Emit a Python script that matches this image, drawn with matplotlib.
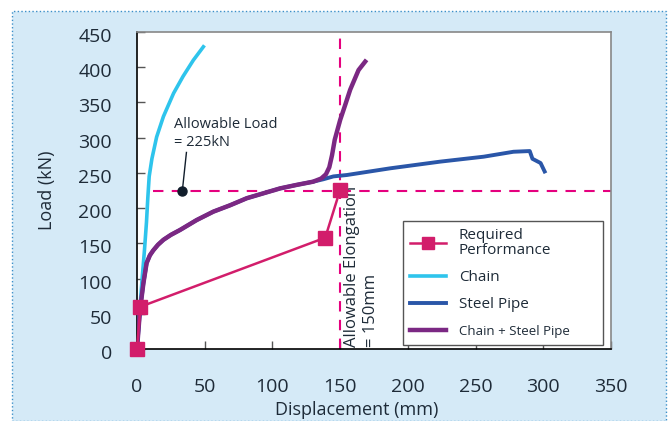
import matplotlib
matplotlib.use('Agg')
import matplotlib.pyplot as plt
from matplotlib.patches import Rectangle
from matplotlib.transforms import ScaledTranslation

plt.rcParams['font.family'] = ['Open Sans', 'DejaVu Sans']

# displacement (mm) / load (kN)
chain_x = [0, 1.5, 3, 4, 5.5, 7, 8, 9, 11, 14.5, 19.5, 27, 34, 41.6, 49]
chain_y = [0, 40, 80, 105, 140, 180, 215, 245, 270, 301, 330, 363, 387, 410, 429]

pipe_x = [0, 2.2, 4.7, 7.1, 9.5, 12, 15.5, 19.5, 25, 31.8, 44, 56.4, 68.7, 81, 93.3, 105.7, 118,
          130, 137.7, 145, 155, 187, 224, 256, 278, 290, 292, 295, 298, 301]
pipe_y = [0, 55, 93, 122, 133, 140, 148, 155, 162, 169, 183, 195, 204, 214, 221, 228, 233,
          237.5, 241, 245, 247, 256.5, 266, 273, 280, 281, 270, 267, 264, 252]

combo_x = [0, 2.2, 4.7, 7.1, 9.5, 12, 15.5, 19.5, 25, 31.8, 44, 56.4, 68.7, 81, 93.3, 105.7,
           118, 130, 136, 139.5, 142, 144, 146, 150, 154, 157.4, 163.6, 168.5]
combo_y = [0, 55, 93, 122, 133, 140, 148, 155, 162, 169, 183, 195, 204, 214, 221, 228,
           233, 237.5, 242, 248, 258, 275, 297, 325, 348, 368, 396, 408]

req_x = [0, 2.5, 139, 150]
req_y = [0, 60, 158, 226]

allow_load = 225
allow_elong = 150

fig = plt.figure(figsize=(6.68, 4.21), dpi=100, facecolor='white')
# light blue panel with dotted border
fig.patches.append(Rectangle((12/668, 0), (666-12)/668, (421-11)/421, transform=fig.transFigure,
                             facecolor='#d5eaf7', edgecolor='#3b8fc9', linestyle=':', linewidth=1.0,
                             zorder=-10))

ax = fig.add_axes([137/668, (421-349)/421, 474/668, 317/421])
ax.set_facecolor('white')

pink = '#d21d6b'
dash = '#e5007e'
txt = '#1e2b38'

ax.plot(chain_x, chain_y, color='#2ec4ec', lw=2.6, zorder=3, label='Chain')
ax.plot(pipe_x, pipe_y, color='#2a56a8', lw=2.8, zorder=4, label='Steel Pipe')
ax.plot(combo_x, combo_y, color='#7b2883', lw=3.2, zorder=5, label='Chain + Steel Pipe')
ax.plot(req_x, req_y, color=pink, lw=1.8, marker='s', markersize=10, zorder=6, clip_on=False,
        label='Required\nPerformance')

ax.plot([12, 350], [allow_load, allow_load], color=dash, lw=1.5, dashes=(5, 4), zorder=2)
ax.axvline(allow_elong, color=dash, lw=1.5, dashes=(5, 4), zorder=2)

ax.plot([33.5], [allow_load], 'o', color='#111d2b', markersize=6.5, zorder=7)
ax.plot([33.5, 36.5], [allow_load, 279], color='#111d2b', lw=1, zorder=7)
ax.text(27.5, 330, 'Allowable Load\n= 225kN', fontsize=10.5, color=txt, va='top', ha='left',
        linespacing=1.35)
ax.text(153, 3, 'Allowable Elongation\n= 150mm', fontsize=12, color=txt, rotation=90,
        va='bottom', ha='left', linespacing=1.25)

ax.set_xlim(0, 350)
ax.set_ylim(0, 450)
ax.set_xticks(range(0, 351, 50))
ax.set_yticks(range(0, 451, 50))
ax.tick_params(direction='in', length=6, width=1, colors='#555555', labelcolor=txt,
               labelsize=14)
ax.tick_params(axis='x', pad=21)
ax.tick_params(axis='y', pad=18)
for lab in ax.get_yticklabels():
    lab.set_transform(lab.get_transform() + ScaledTranslation(0, -3/100, fig.dpi_scale_trans))
for s in ['left', 'bottom']:
    ax.spines[s].set_color('black')
for s in ['top', 'right']:
    ax.spines[s].set_color('#888888')
for s in ax.spines.values():
    s.set_linewidth(1.2)

ax.set_xlabel('Displacement (mm)', fontsize=13, color=txt)
ax.xaxis.set_label_coords((357-137)/474, -(410-349)/317)
ax.xaxis.label.set_va('center')
ax.set_ylabel('Load (kN)', fontsize=13, color=txt)
ax.yaxis.set_label_coords(-(137-47)/474, 0.5)
ax.yaxis.label.set_va('center')

h, l = ax.get_legend_handles_labels()
order = [3, 0, 1, 2]
leg = ax.legend([h[i] for i in order], [l[i] for i in order], loc='lower left',
                bbox_to_anchor=(0.561, 0.012, 0.422, 0.39), mode='expand', fontsize=11,
                fancybox=False, edgecolor='#555555', framealpha=1, handlelength=2.4,
                borderaxespad=0, labelspacing=0.8, borderpad=0.45, markerscale=0.9)
leg.get_frame().set_linewidth(1.0)
for t in leg.get_texts():
    t.set_color(txt)
leg.get_texts()[0].set_linespacing(1.0)
leg.get_texts()[3].set_fontsize(9.5)

fig.savefig('out.png', dpi=100, facecolor=fig.get_facecolor())
